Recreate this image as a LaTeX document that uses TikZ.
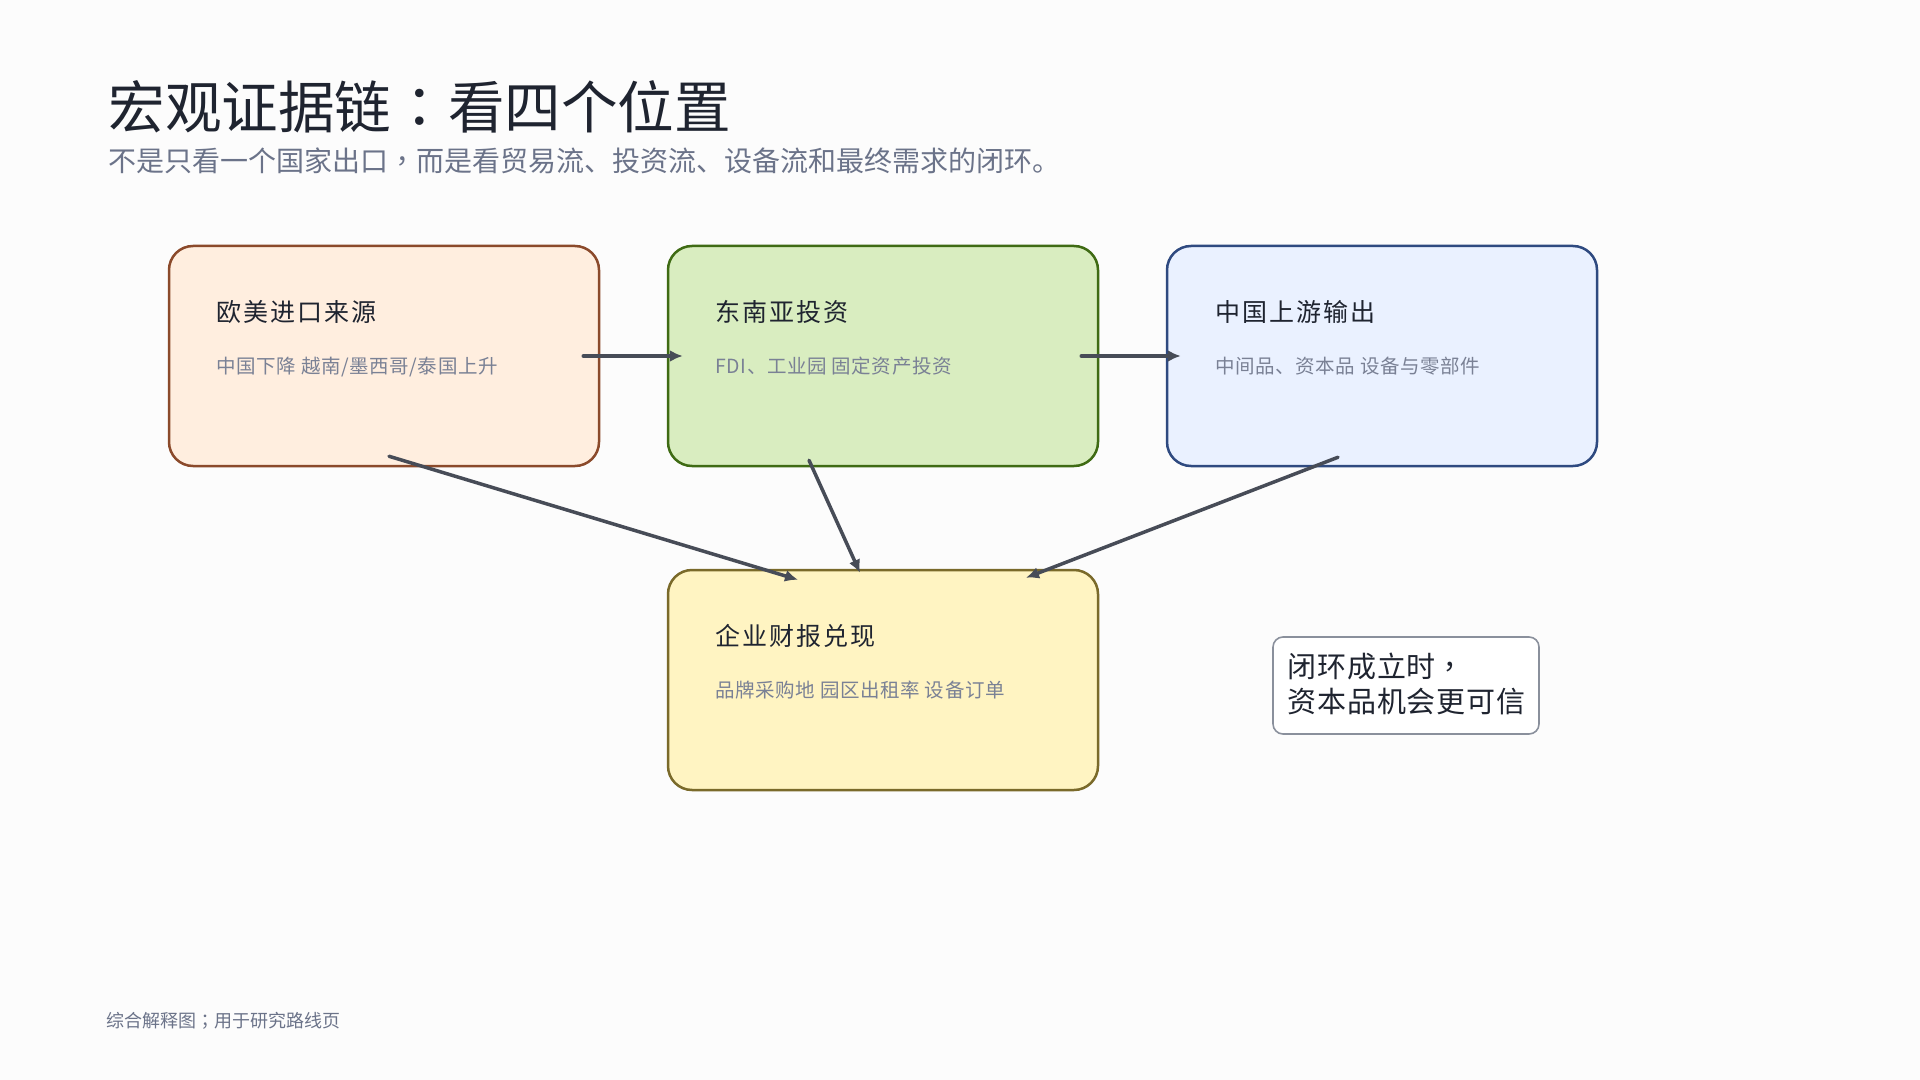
\documentclass[tikz,border=0pt]{standalone}
\usepackage{fontspec}
\setmainfont{Noto Sans CJK SC}
\newfontfamily\tcpunct{Noto Sans CJK TC}
\newcommand{\cpunct}[1]{{\tcpunct #1}}
\usetikzlibrary{arrows.meta}
\definecolor{bgc}{HTML}{FCFCFC}
\definecolor{titlec}{HTML}{1F2430}
\definecolor{subc}{HTML}{6B7389}
\definecolor{smallc}{HTML}{7A8195}
\definecolor{arrc}{HTML}{474C57}
\definecolor{f1}{HTML}{FFEEDF}\definecolor{d1}{HTML}{8B4A2B}
\definecolor{f2}{HTML}{D9EDC0}\definecolor{d2}{HTML}{3F6B14}
\definecolor{f3}{HTML}{EAF1FF}\definecolor{d3}{HTML}{2F4A80}
\definecolor{f4}{HTML}{FFF4C2}\definecolor{d4}{HTML}{7A6A2A}
\definecolor{noted}{HTML}{8A909C}
\tikzset{
  card/.style={draw, line width=1.25pt, rounded corners=12pt, minimum width=215pt, minimum height=110pt, inner sep=0pt},
  cardtitle/.style={anchor=base west, inner sep=0pt, text=titlec, font=\fontsize{12.5pt}{15pt}\selectfont\addfontfeatures{LetterSpace=8}},
  cardsub/.style={anchor=base west, inner sep=0pt, text=smallc, font=\fontsize{9.75pt}{12pt}\selectfont\addfontfeatures{LetterSpace=3}},
  notetext/.style={anchor=base west, inner sep=0pt, text=titlec, font=\fontsize{14.5pt}{17.5pt}\selectfont\addfontfeatures{LetterSpace=3}},
  flow/.style={draw=arrc, line width=1.75pt, line cap=round, -{Latex[length=6.5pt,width=6pt]}},
}
\begin{document}
\begin{tikzpicture}[x=0.5pt,y=-0.5pt]
\useasboundingbox[fill=bgc] (0,0) rectangle (1920,1080);
% title
\node[anchor=base west, inner sep=0pt, text=titlec, font=\fontsize{28.3pt}{32pt}\selectfont] (title) at (108,129) {宏观证据链\cpunct{：}看四个位置};
\node[anchor=base west, inner sep=0pt, text=subc, font=\fontsize{14pt}{17pt}\selectfont] (subtitle) at (108,172) {不是只看一个国家出口\cpunct{，}而是看贸易流、投资流、设备流和最终需求的闭环。};
% cards
\node[card, fill=f1, draw=d1] (b1) at (384,356) {};
\node[card, fill=f2, draw=d2] (b2) at (883,356) {};
\node[card, fill=f3, draw=d3] (b3) at (1382,356) {};
\node[card, fill=f4, draw=d4] (b4) at (883,680) {};
% arrows
\draw[flow] ([xshift=-8.5pt]b1.east) -- ([xshift=8pt]b2.west);
\draw[flow] ([xshift=-9pt]b2.east) -- ([xshift=7.5pt]b3.west);
\draw[flow] ([xshift=2.5pt,yshift=5.5pt]b1.south) -- ([xshift=-42.5pt,yshift=-5.5pt]b4.north);
\draw[flow] ([xshift=-37pt,yshift=3.5pt]b2.south) -- ([xshift=-11.5pt,yshift=-2pt]b4.north);
\draw[flow] ([xshift=-22pt,yshift=5pt]b3.south) -- ([xshift=71.5pt,yshift=-4.5pt]b4.north);
% card texts
\node[cardtitle] (t1) at (216,321.5) {欧美进口来源};
\node[cardsub] (s1) at (216,373) {中国下降 越南/墨西哥/泰国上升};
\node[cardtitle] (t2) at (715,321.5) {东南亚投资};
\node[cardsub] (s2) at (715,373) {FDI、工业园 固定资产投资};
\node[cardtitle] (t3) at (1215,321.5) {中国上游输出};
\node[cardsub] (s3) at (1215,373) {中间品、资本品 设备与零部件};
\node[cardtitle] (t4) at (715,645.5) {企业财报兑现};
\node[cardsub] (s4) at (715,697) {品牌采购地 园区出租率 设备订单};
% note
\node[draw=noted, fill=white, line width=0.8pt, rounded corners=5pt, minimum width=133pt, minimum height=48.5pt, inner sep=0pt] (note) at (1406,685.5) {};
\node[notetext] (n1) at (1287,677) {闭环成立时\cpunct{，}};
\node[notetext] (n2) at (1287,712) {资本品机会更可信};
% footer
\node[anchor=base west, inner sep=0pt, text=subc, font=\fontsize{9pt}{10pt}\selectfont] (footer) at (106,1027.5) {综合解释图\cpunct{；}用于研究路线页};
\end{tikzpicture}
\end{document}
